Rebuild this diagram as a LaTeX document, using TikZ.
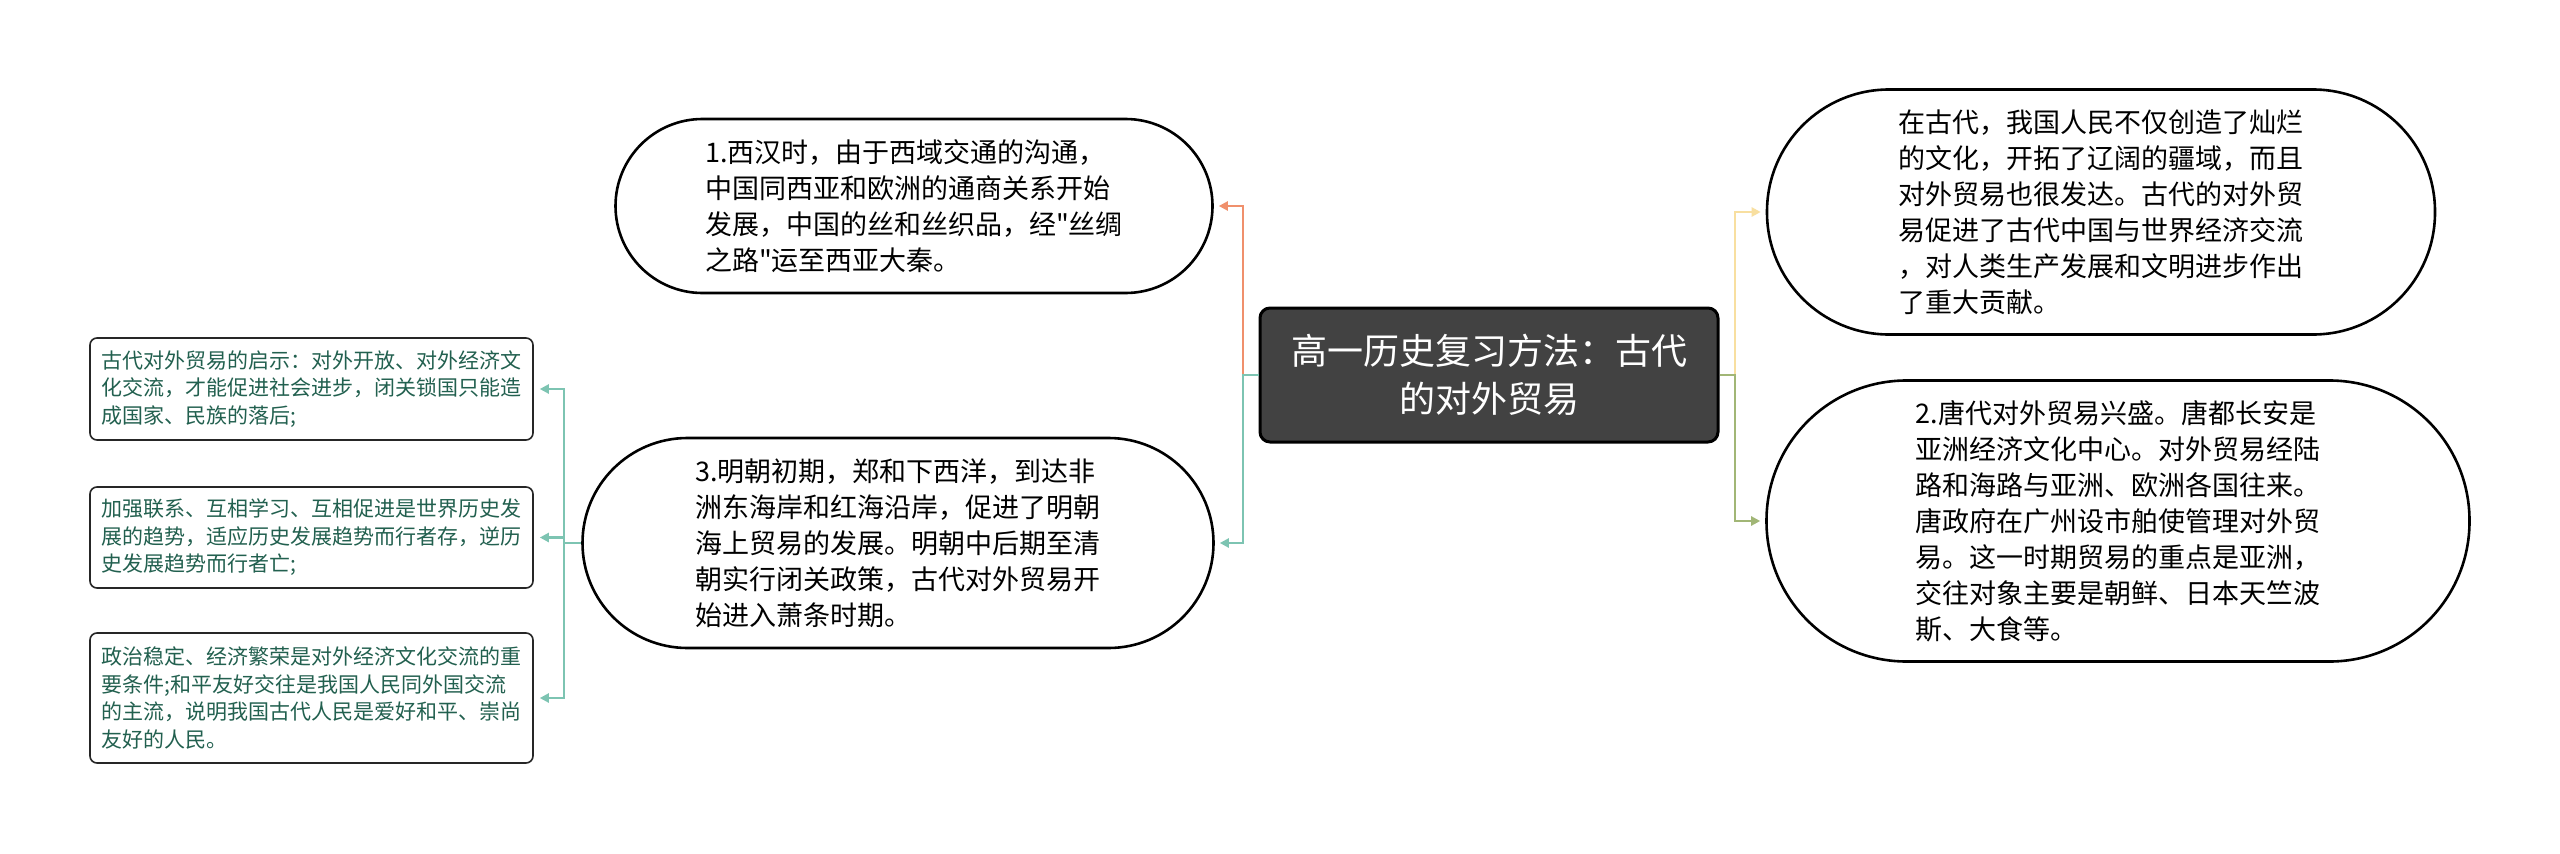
\documentclass[tikz,border=0pt]{standalone}
\usepackage{fontspec}
\setmainfont{Noto Sans CJK SC}
\newfontfamily\cjkq{Noto Sans CJK SC}
\usetikzlibrary{arrows.meta}
\definecolor{corange}{HTML}{F0906C}
\definecolor{cteal}{HTML}{7DC4B2}
\definecolor{cyellow}{HTML}{F8DFA0}
\definecolor{cgreen}{HTML}{A1B676}
\definecolor{ctext}{HTML}{22604F}
\definecolor{ctopic}{HTML}{424242}
\begin{document}
\begin{tikzpicture}[x=1pt,y=-1pt,
  bubble/.style={draw=black, line width=2.6pt, fill=white, rectangle, align=left,
    font=\fontsize{27}{36}\selectfont, inner sep=0pt},
  topic/.style={draw=black, line width=3pt, fill=ctopic, rectangle, rounded corners=10pt,
    align=center, text=white, font=\fontsize{36}{48}\selectfont, inner sep=0pt,
    minimum width=458pt, minimum height=134pt},
  leafbox/.style={draw=black!85, line width=1.6pt, fill=white, rectangle, rounded corners=7pt,
    align=left, text=ctext, font=\fontsize{21}{27.5}\selectfont, inner sep=0pt,
    minimum width=443pt},
  conn/.style={line width=2.4pt, -{Triangle[length=9pt,width=9pt]}, shorten >=5pt},
  plainconn/.style={line width=2.4pt}
]
\fill[white] (0,0) rectangle (2560,854);
\useasboundingbox (0,0) rectangle (2560,854);

\node[topic] (c) at (1489,375) {高一历史复习方法：古代\\的对外贸易};

\node[bubble, rounded corners=87pt, minimum width=597pt, minimum height=174pt] (b1) at (914,206)
{1.西汉时，由于西域交通的沟通，\\中国同西亚和欧洲的通商关系开始\\发展，中国的丝和丝织品，经{\cjkq\char"22}丝绸\\之路{\cjkq\char"22}运至西亚大秦。};

\node[bubble, rounded corners=105pt, minimum width=631pt, minimum height=210pt] (b3) at (898,543)
{3.明朝初期，郑和下西洋，到达非\\洲东海岸和红海沿岸，促进了明朝\\海上贸易的发展。明朝中后期至清\\朝实行闭关政策，古代对外贸易开\\始进入萧条时期。};

\node[bubble, rounded corners=122pt, minimum width=668pt, minimum height=245pt] (tr) at (2101,212)
{在古代，我国人民不仅创造了灿烂\\的文化，开拓了辽阔的疆域，而且\\对外贸易也很发达。古代的对外贸\\易促进了古代中国与世界经济交流\\，对人类生产发展和文明进步作出\\了重大贡献。};

\node[bubble, rounded corners=140pt, minimum width=703pt, minimum height=281pt] (br) at (2118,521)
{2.唐代对外贸易兴盛。唐都长安是\\亚洲经济文化中心。对外贸易经陆\\路和海路与亚洲、欧洲各国往来。\\唐政府在广州设市舶使管理对外贸\\易。这一时期贸易的重点是亚洲，\\交往对象主要是朝鲜、日本天竺波\\斯、大食等。};

\node[leafbox, minimum height=102pt] (la) at (311.5,389)
{古代对外贸易的启示：对外开放、对外经济文\\化交流，才能促进社会进步，闭关锁国只能造\\成国家、民族的落后;};

\node[leafbox, minimum height=101pt] (lb) at (311.5,537.5)
{加强联系、互相学习、互相促进是世界历史发\\展的趋势，适应历史发展趋势而行者存，逆历\\史发展趋势而行者亡;};

\node[leafbox, minimum height=130pt] (lc) at (311.5,698)
{政治稳定、经济繁荣是对外经济文化交流的重\\要条件;和平友好交往是我国人民同外国交流\\的主流，说明我国古代人民是爱好和平、崇尚\\友好的人民。};

% left connectors from topic
\coordinate (jl) at (1243,375);
\draw[conn, corange] (jl) |- (b1.east);
\draw[conn, cteal] (c.west) -- (jl) |- (b3.east);

% right connectors from topic
\coordinate (jr) at (1735,375);
\draw[conn, cyellow] (jr) |- (tr.west);
\draw[conn, cgreen] (c.east) -- (jr) |- (br.west);

% connectors from bubble 3 to leaf boxes
\coordinate (jb) at (564,543);
\draw[plainconn, cteal] (b3.west) -- (jb);
\draw[conn, cteal, shorten >=6pt] (jb) |- (la.east);
\draw[conn, cteal, shorten >=6pt] (jb) |- (lb.east);
\draw[conn, cteal, shorten >=6pt] (jb) |- (lc.east);
\end{tikzpicture}
\end{document}
